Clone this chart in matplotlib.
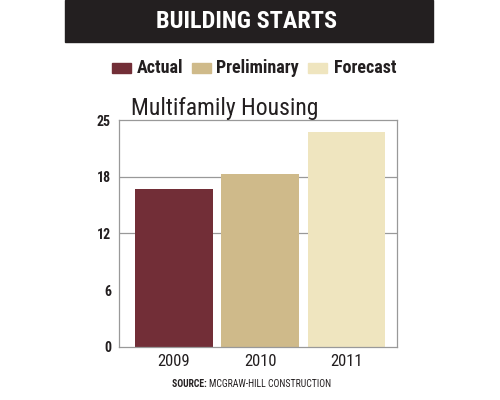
import matplotlib
matplotlib.use("Agg")
import matplotlib.pyplot as plt
from matplotlib.patches import Rectangle
from matplotlib import font_manager
import os

years = ["2009", "2010", "2011"]
values = [16.7, 18.3, 22.7]
series = ["Actual", "Preliminary", "Forecast"]
colors = ["#722e37", "#cfba8a", "#efe5bf"]
ytick_vals = [0, 6, 12, 18, 24]
ytick_labels = ["0", "6", "12", "18", "25"]

# choose a condensed sans family with static regular + bold files
fams = {}
for f in font_manager.fontManager.ttflist:
    if "[" in os.path.basename(f.fname):
        continue
    fams.setdefault(f.name, set()).add(f.weight)
cond = "DejaVu Sans"
for cand in ["Roboto Condensed", "Archivo Narrow", "PT Sans Narrow", "Liberation Sans Narrow",
             "Barlow Condensed", "Sofia Sans Condensed", "Encode Sans Condensed", "Fira Sans Condensed",
             "IBM Plex Sans Condensed", "Asap Condensed", "Saira Condensed"]:
    w = fams.get(cand, set())
    if 400 in w and 700 in w:
        cond = cand
        break
plt.rcParams['font.family'] = [cond, 'DejaVu Sans']

fig = plt.figure(figsize=(5, 4), dpi=100)
W, H = 500, 400
DARK = "#231f20"

def fx(x):
    return x / W

def fy(y):
    return 1 - y / H

# header bar
fig.patches.append(Rectangle((fx(65), fy(42)), fx(433) - fx(65), 42 / H,
                             transform=fig.transFigure, color=DARK, zorder=0))
fig.text(0.493, fy(22), "BUILDING STARTS", color="white", fontsize=17.5,
         fontweight="bold", ha="center", va="center")

# legend
leg_sq = [112, 192, 308]
leg_tx = [137, 216, 334]
for sx, tx, lab, c in zip(leg_sq, leg_tx, series, colors):
    fig.patches.append(Rectangle((fx(sx), fy(73)), 19 / W, 10 / H,
                                 transform=fig.transFigure, color=c))
    fig.text(fx(tx), fy(68), lab, fontsize=13, fontweight="bold",
             color=DARK, ha="left", va="center")

ax = fig.add_axes([fx(119.3), fy(346.7), (397.3 - 119.3) / W, (346.7 - 120) / H])
x = list(range(len(years)))
ax.bar(x, values, width=0.9, color=colors, zorder=2)
ax.set_xlim(-0.63, 2.59)
ax.set_ylim(0, 24)
ax.set_yticks(ytick_vals)
ax.set_yticklabels(ytick_labels, fontsize=10, fontweight="bold", color=DARK)
ax.set_xticks(x)
ax.set_xticklabels(years, fontsize=12, color=DARK)
ax.tick_params(axis="x", length=0, pad=5)
ax.tick_params(axis="y", length=0, pad=6)
for gy in [12, 18]:
    ax.axhline(gy, color="#999999", lw=0.9, zorder=1)
for s in ax.spines.values():
    s.set_color("#999999")
    s.set_linewidth(0.9)

fig.text(fx(131), fy(108), "Multifamily Housing", fontsize=17, color=DARK,
         ha="left", va="center")

r = fig.canvas.get_renderer()
t1 = fig.text(fx(172), fy(384), "SOURCE: ", fontsize=7, fontweight="bold",
              color=DARK, ha="left", va="center")
bb = t1.get_window_extent(renderer=r)
fig.text(bb.x1 / W, fy(384), "MCGRAW-HILL CONSTRUCTION", fontsize=7,
         color=DARK, ha="left", va="center")

fig.savefig("out.png", dpi=100, facecolor="white")
